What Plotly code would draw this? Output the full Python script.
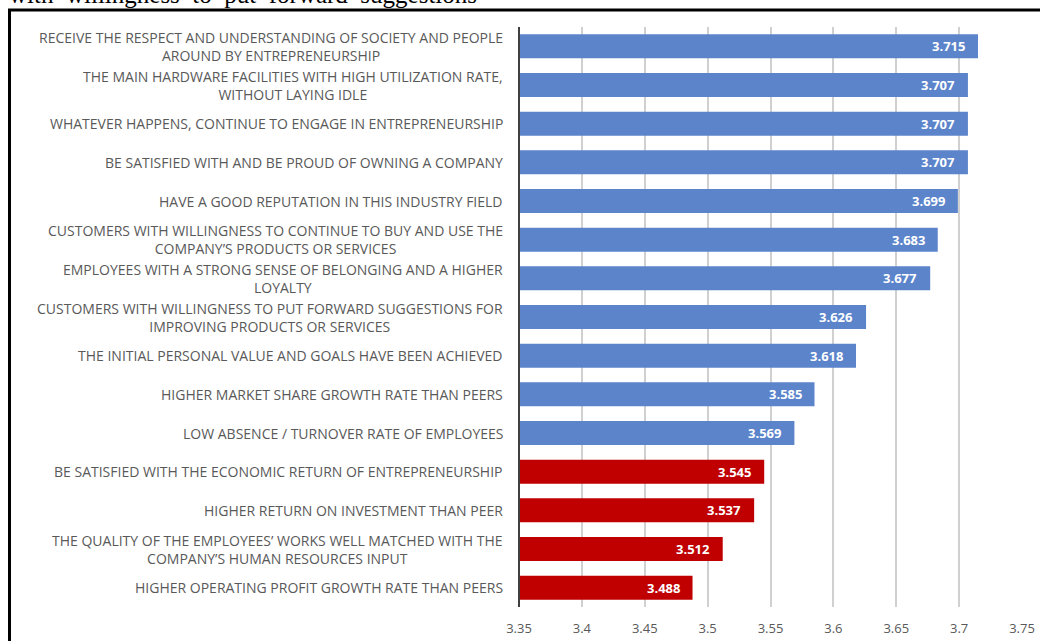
import plotly.graph_objects as go

# Survey items (top to bottom) and their mean scores
categories = [
    "RECEIVE THE RESPECT AND UNDERSTANDING OF SOCIETY AND PEOPLE<br>AROUND BY ENTREPRENEURSHIP",
    "THE MAIN HARDWARE FACILITIES WITH HIGH UTILIZATION RATE,<br>WITHOUT LAYING IDLE",
    "WHATEVER HAPPENS, CONTINUE TO ENGAGE IN ENTREPRENEURSHIP",
    "BE SATISFIED WITH AND BE PROUD OF OWNING A COMPANY",
    "HAVE A GOOD REPUTATION IN THIS INDUSTRY FIELD",
    "CUSTOMERS WITH WILLINGNESS TO CONTINUE TO BUY AND USE THE<br>COMPANY’S PRODUCTS OR SERVICES",
    "EMPLOYEES WITH A STRONG SENSE OF BELONGING AND A HIGHER<br>LOYALTY",
    "CUSTOMERS WITH WILLINGNESS TO PUT FORWARD SUGGESTIONS FOR<br>IMPROVING PRODUCTS OR SERVICES",
    "THE INITIAL PERSONAL VALUE AND GOALS HAVE BEEN ACHIEVED",
    "HIGHER MARKET SHARE GROWTH RATE THAN PEERS",
    "LOW ABSENCE / TURNOVER RATE OF EMPLOYEES",
    "BE SATISFIED WITH THE ECONOMIC RETURN OF ENTREPRENEURSHIP",
    "HIGHER RETURN ON INVESTMENT THAN PEER",
    "THE QUALITY OF THE EMPLOYEES’ WORKS WELL MATCHED WITH THE<br>COMPANY’S HUMAN RESOURCES INPUT",
    "HIGHER OPERATING PROFIT GROWTH RATE THAN PEERS",
]
scores = [3.715, 3.707, 3.707, 3.707, 3.699, 3.683, 3.677, 3.626, 3.618,
          3.585, 3.569, 3.545, 3.537, 3.512, 3.488]
low_group = [False] * 11 + [True] * 4

x_ticks = [3.35, 3.4, 3.45, 3.5, 3.55, 3.6, 3.65, 3.7, 3.75]
x_tick_text = ["3.35", "3.4", "3.45", "3.5", "3.55", "3.6", "3.65", "3.7", "3.75"]

BLUE = "#5B84CB"
RED = "#C00000"
W, H = 1040, 641
ML, MR, MT, MB = 519, 18, 27, 34
PW, PH = W - ML - MR, H - MT - MB


def px_x(p):
    return (p - ML) / PW


def px_y(p):
    return 1 - (p - MT) / PH


ids = list(range(len(categories)))
colors = [RED if low else BLUE for low in low_group]

fig = go.Figure()
fig.add_trace(go.Bar(
    x=[s - x_ticks[0] for s in scores],
    base=x_ticks[0],
    y=ids,
    orientation="h",
    marker=dict(color=colors, line=dict(width=0)),
    width=0.62,
    hoverinfo="skip",
))

annotations = []
# category labels, right aligned against the axis, lines centred
for i, c in enumerate(categories):
    annotations.append(dict(
        x=px_x(505), xref="paper", y=i, yref="y",
        text=c, showarrow=False, xanchor="right", yanchor="middle",
        align="center",
        font=dict(family="Open Sans", size=14, color="#595959"),
    ))
# value labels inside the bar ends
for i, s in enumerate(scores):
    annotations.append(dict(
        x=s, xref="x", y=i, yref="y",
        text=f"{s:.3f}", showarrow=False, xanchor="right", yanchor="middle",
        xshift=-11,
        font=dict(family="Open Sans", size=13, color="white", weight="bold"),
    ))
# caption line above the frame
annotations.append(dict(
    x=px_x(7), xref="paper", y=px_y(10), yref="paper",
    text="with  willingness  to  put  forward  suggestions",
    showarrow=False, xanchor="left", yanchor="bottom",
    font=dict(family="Liberation Serif", size=25, color="black"),
))

shapes = [
    # frame: top and left edges
    dict(type="line", xref="paper", yref="paper",
         x0=px_x(8), x1=px_x(1045), y0=px_y(10), y1=px_y(10),
         line=dict(color="black", width=3)),
    dict(type="line", xref="paper", yref="paper",
         x0=px_x(9.5), x1=px_x(9.5), y0=px_y(9), y1=px_y(650),
         line=dict(color="black", width=3)),
    # value axis baseline
    dict(type="line", xref="paper", yref="paper",
         x0=0, x1=0, y0=0, y1=1,
         line=dict(color="#404040", width=2)),
]

fig.update_layout(
    width=W, height=H,
    margin=dict(l=ML, r=MR, t=MT, b=MB, autoexpand=False),
    paper_bgcolor="white", plot_bgcolor="white",
    showlegend=False,
    bargap=0.38,
    xaxis=dict(
        range=[3.35, 3.75], tickvals=x_ticks, ticktext=x_tick_text,
        showgrid=True, gridcolor="#D0D0D0", gridwidth=1.5,
        zeroline=False, showline=False, ticks="",
        ticklabelstandoff=12, automargin=False,
        tickfont=dict(family="Open Sans", size=13, color="#595959"),
        fixedrange=True,
    ),
    yaxis=dict(
        range=[len(categories) - 0.5, -0.5],
        showticklabels=False, showgrid=False, zeroline=False,
        showline=False, ticks="", fixedrange=True, automargin=False,
    ),
    annotations=annotations,
    shapes=shapes,
)

fig.write_html("out.html")
